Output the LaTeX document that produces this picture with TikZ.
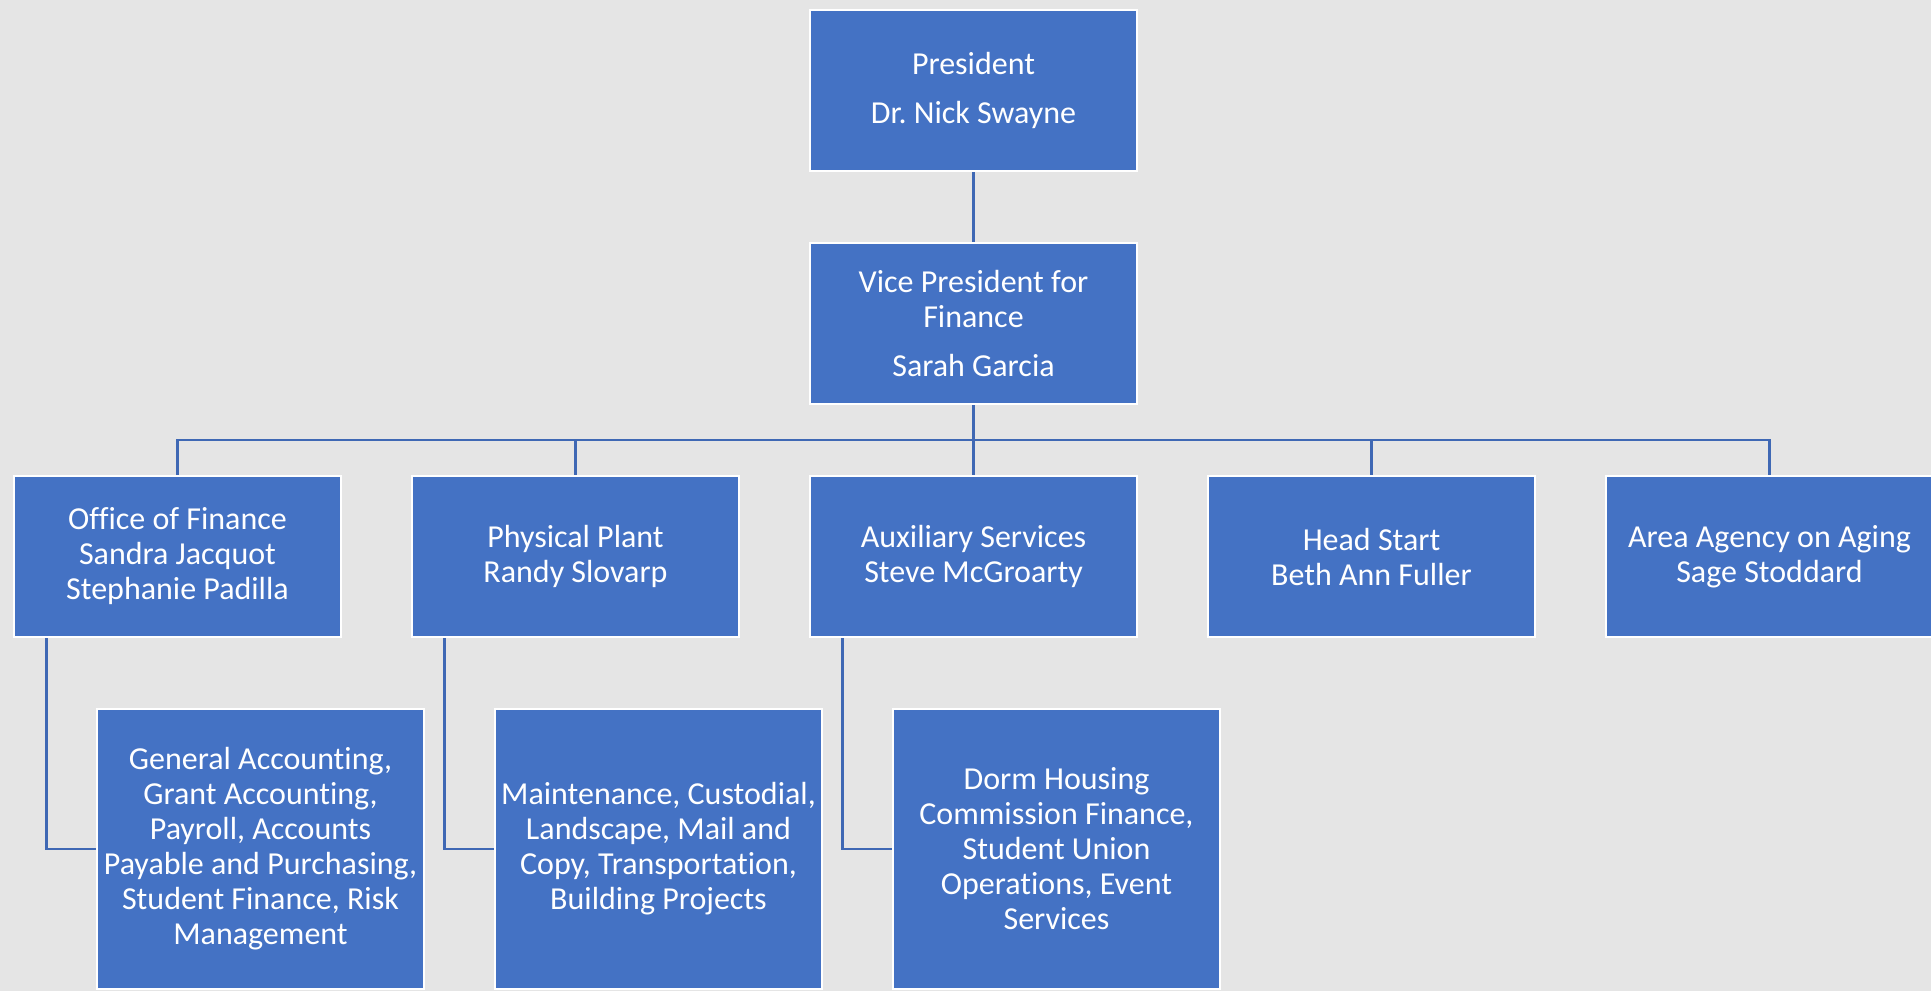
\documentclass[tikz,border=0pt]{standalone}
\usepackage{fontspec}
\setmainfont{Carlito}[Ligatures=NoCommon]
\frenchspacing
\definecolor{boxblue}{HTML}{4472C4}
\definecolor{lineblue}{HTML}{3F68B4}
\definecolor{canvas}{HTML}{E5E5E5}
\begin{document}
\begin{tikzpicture}[x=1pt,y=-1pt,
  unit/.style={rectangle, draw=white, line width=2.5pt, fill=boxblue, text=white,
    minimum width=327pt, minimum height=161pt, inner sep=0pt, align=center,
    font=\fontsize{32}{35}\selectfont},
  subunit/.style={unit, minimum height=280pt},
  link/.style={draw=lineblue, line width=2.5pt}]

% page background
\fill[canvas] (0,0) rectangle (1931,991);
\useasboundingbox (0,0) rectangle (1931,991);

% top of the chart
\node[unit] (pres) at (973.5,90.5) {President\\[14pt]Dr. Nick Swayne};
\node[unit] (vp) at (973.5,323.5) {Vice President for\\Finance\\[14pt]Sarah Garcia};

% departments
\node[unit] (fin)   at (177.5,556.5)  {Office of Finance\\Sandra Jacquot\\Stephanie Padilla};
\node[unit] (phys)  at (575.5,556.5)  {Physical Plant\\Randy Slovarp};
\node[unit] (aux)   at (973.5,556.5)  {Auxiliary Services\\Steve McGroarty};
\node[unit] (head)  at (1371.5,556.5) {Head Start\\Beth Ann Fuller};
\node[unit] (aging) at (1769.5,556.5) {Area Agency on Aging\\Sage Stoddard};

% units below the departments
\node[subunit] (acct)  at (260.5,849)  {General Accounting,\\Grant Accounting,\\Payroll, Accounts\\Payable and Purchasing,\\Student Finance, Risk\\Management};
\node[subunit] (plant) at (658.5,849)  {Maintenance, Custodial,\\Landscape, Mail and\\Copy, Transportation,\\Building Projects};
\node[subunit] (dorm)  at (1056.5,849) {Dorm Housing\\Commission Finance,\\Student Union\\Operations, Event\\Services};

% reporting lines
\coordinate (bus) at (973.5,440);
\draw[link] (pres.south) -- (vp.north);
\draw[link] (vp.south) -- (bus);
\draw[link] (fin.north) -- (fin.north |- bus) -- (aging.north |- bus) -- (aging.north);
\draw[link] (phys.north) -- (phys.north |- bus);
\draw[link] (aux.north) -- (aux.north |- bus);
\draw[link] (head.north) -- (head.north |- bus);

\draw[link] ([xshift=-131pt]fin.south) |- (acct.west);
\draw[link] ([xshift=-131pt]phys.south) |- (plant.west);
\draw[link] ([xshift=-131pt]aux.south) |- (dorm.west);
\end{tikzpicture}
\end{document}
